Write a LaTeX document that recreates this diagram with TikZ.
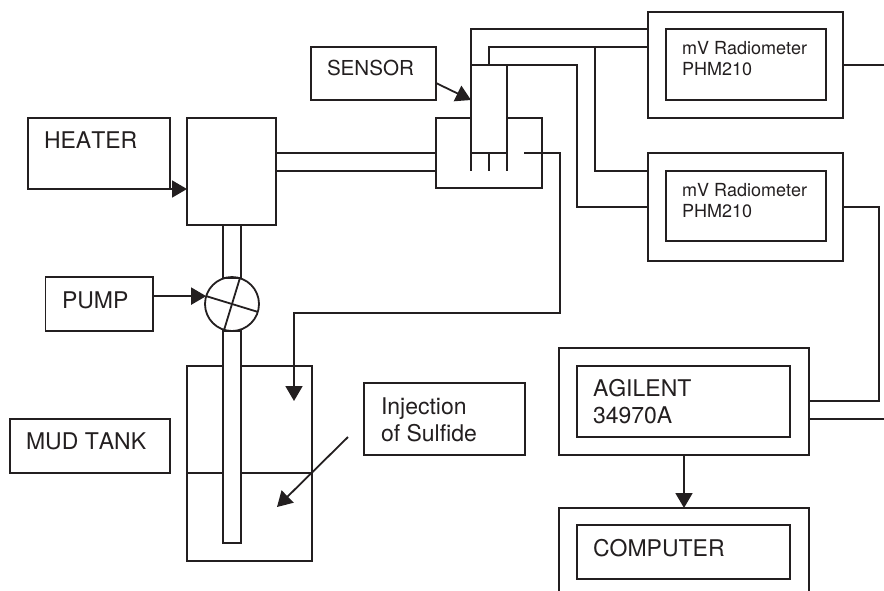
\documentclass[tikz,border=0pt]{standalone}
\usepackage{fontspec}
\setmainfont[Kerning=Off]{TeX Gyre Heros}
\usetikzlibrary{arrows.meta}
\usetikzlibrary{positioning}
\definecolor{ink}{HTML}{231F20}

\begin{document}
\begin{tikzpicture}[x=1pt,y=-1pt,line width=1.8pt,draw=ink,
  box/.style={draw=ink,fill=white,rectangle,inner sep=0pt,outer sep=0pt,anchor=north west},
  lab/.style={text=ink,inner sep=0pt,outer sep=0pt,anchor=base west,align=left,font=\fontsize{23}{27}\selectfont},
  smalllab/.style={lab,font=\fontsize{18}{20.5}\selectfont},
  tip/.style={-{Triangle[length=15pt,width=17pt,fill=ink]},draw=ink}]
\useasboundingbox (0,0) rectangle (884,590);
% left column
\node[box,minimum width=142,minimum height=71] (heater) at (28,118) {};
\node[lab] (heaterlab) at (44,148) {HEATER};
\node[box,minimum width=107.5,minimum height=54] (pump) at (45.5,277) {};
\node[lab] (pumplab) at (62,308) {PUMP};
\node[box,minimum width=160,minimum height=54] (mudtank) at (10,419) {};
\node[lab] (mudtanklab) at (26,449) {MUD TANK};
% heating block, valve and tank
\node[box,minimum width=89,minimum height=107] (block) at (187,118) {};
\node[box,minimum width=18,minimum height=53] (pipeup) at (223,225) {};
\node[draw=ink,circle,inner sep=0pt,outer sep=0pt,minimum size=54] (valve) at (232,304) {};
\node[box,minimum width=125,minimum height=195] (tank) at (187,366) {};
\draw (tank.west |- mudtank.south) -- (tank.east |- mudtank.south);
\node[box,minimum width=18,minimum height=212] (pipelow) at (223,331) {};
\draw (valve.163) -- (valve.343);
\draw (valve.73) -- (valve.253);
% measuring cell
\node[box,minimum width=106,minimum height=70] (vessel) at (436,118) {};
\node[box,minimum width=36,minimum height=88] (tube) at (471,65) {};
\node[box,minimum width=125,minimum height=53] (sensor) at (311,47) {};
\node[lab,font=\fontsize{20.6}{24}\selectfont] (sensorlab) at (327,75) {SENSOR};
\coordinate (tickl) at (471,171);
\coordinate (tickm) at (489,171);
\coordinate (tickr) at (507,171);
\draw (tube.south west) -- (tickl);
\draw (tube.south) -- (tickm);
\draw (tube.south east) -- (tickr);
\draw (block.east |- tube.south) -- (vessel.west |- tube.south);
\draw (block.east |- tickl) -- (vessel.west |- tickl);
% radiometers
\node[box,minimum width=195,minimum height=106] (radone) at (648,12) {};
\node[box,minimum width=160,minimum height=71] (radonein) at (666,29) {};
\node[smalllab] (radonelab) at (682,75) {mV Radiometer\\PHM210};
\node[box,minimum width=195,minimum height=108] (radtwo) at (648,153) {};
\node[box,minimum width=160,minimum height=70] (radtwoin) at (666,171) {};
\node[smalllab] (radtwolab) at (682,217) {mV Radiometer\\PHM210};
% logger and computer
\node[box,minimum width=250,minimum height=107] (agilent) at (559,348) {};
\node[box,minimum width=213,minimum height=71] (agilentin) at (577,366) {};
\node[lab] (agilentlab) at (593,423) {AGILENT\\34970A};
\node[box,minimum width=250,minimum height=100] (computer) at (559,508) {};
\node[box,minimum width=213,minimum height=54] (computerin) at (577,525) {};
\node[lab] (computerlab) at (593,556) {COMPUTER};
\node[box,minimum width=161,minimum height=72] (inject) at (364,383) {};
\node[lab] (injectlab) at (381,441) {Injection\\of Sulfide};
% wires
\coordinate (branch) at (595,47);
\coordinate (bendb) at (577,65);
\coordinate (drain) at (524,153);
\coordinate (dropa) at (560,313);
\coordinate (drip) at (294,401);
\coordinate (outa) at (884,65);
\coordinate (outb) at (879,207);
\coordinate (loga) at (808,401);
\coordinate (logb) at (808,419);
\coordinate (outc) at (884,419);
\coordinate (sensorout) at (436,83);
\coordinate (injout) at (348,437);
\coordinate (injtip) at (277,507);
\draw (tube.north west) |- (radone.west |- radonein.north);
\draw (tube.north) |- (radone.west |- sensor.north);
\draw (branch) |- (radtwo.west |- radtwoin.north);
\draw (tube.north east) -- (bendb) |- (radtwo.west);
\draw (radone.east) -- (outa);
\draw (radtwo.east) -- (outb) |- (loga);
\draw (logb) -- (outc);
\draw[tip] (drain) -| (dropa) -| (drip);
\draw[tip] (heater.south east) -- (block.west |- heater.south);
\draw[tip] (pump.east |- valve.163) -- (valve.163);
\draw[tip] (sensorout) -- (tube.west |- sensor.south);
\draw[tip] (injout) -- (injtip);
\draw[tip] (agilent.south) -- (computer.north);
\end{tikzpicture}
\end{document}
